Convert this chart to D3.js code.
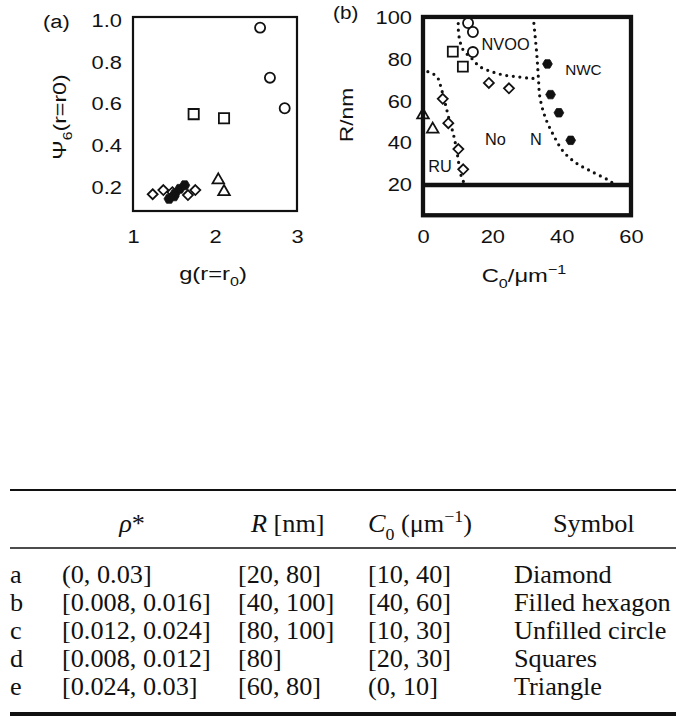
<!DOCTYPE html>
<html>
<head>
<meta charset="utf-8">
<style>
  body { margin: 0; background: #fff; }
  svg { display: block; }
</style>
</head>
<body>
<script src="https://cdn.jsdelivr.net/npm/d3@7"></script>
<script>
// ---- data ----
var psiTicks = [0.2, 0.4, 0.6, 0.8, 1.0];
var gTicks = [1, 2, 3];
var c0Ticks = [0, 20, 40, 60];
var rTicks = [20, 40, 60, 80, 100];

// panel (a): [g(r=r0), psi6]
var aDiamond = [[1.24, 0.170], [1.37, 0.190], [1.48, 0.180], [1.67, 0.166], [1.76, 0.190]];
var aHexagon = [[1.44, 0.148], [1.51, 0.172], [1.57, 0.196], [1.63, 0.213], [1.50, 0.160]];
var aCircle = [[2.55, 0.966], [2.67, 0.727], [2.85, 0.581]];
var aSquare = [[1.74, 0.553], [2.11, 0.533]];
var aTriangle = [[2.04, 0.238], [2.11, 0.182]];

// panel (b): [C0, R]
var bDiamond = [[19.0, 68.9], [24.8, 66.3], [5.7, 61.3], [7.3, 49.6], [10.2, 37.2], [11.6, 27.5]];
var bHexagon = [[35.9, 78.0], [36.8, 63.3], [39.2, 54.6], [42.6, 41.4]];
var bCircle = [[13.0, 97.6], [14.4, 93.3], [14.4, 83.7]];
var bSquare = [[8.6, 83.9], [11.5, 76.7]];
var bTriangle = [[0.0, 53.5], [2.8, 46.7]];

// dotted phase boundaries in (b)
var ruCurve = [[1.4, 74.3], [4.0, 71.9], [5.4, 65.5], [6.4, 59.1], [7.6, 51.1], [8.7, 44.8], [9.7, 36.8], [10.5, 28.8], [11.6, 21.8], [13.0, 20.6]];
var nvooCurve = [[10.2, 100.5], [10.2, 94.2], [10.7, 88.6], [11.6, 84.7], [14.0, 80.7], [16.4, 76.7], [19.8, 74.3], [23.2, 72.7], [27.0, 71.9], [30.9, 71.1], [33.2, 71.0]];
var nCurve = [[31.8, 100.5], [32.8, 83.1], [33.3, 71.1], [33.7, 62.3], [35.2, 52.7], [37.6, 44.0], [40.5, 36.0], [44.3, 30.4], [48.7, 26.4], [53.4, 22.4], [55.0, 20.6]];

var regionNames = ["NVOO", "NWC", "No", "N", "RU"];
var regionAt = [[16.9, 84.7], [41.0, 72.7], [17.9, 39.2], [30.9, 39.2], [1.5, 26.4]];

// table
var rowKeys = ["a", "b", "c", "d", "e"];
var rhoRanges = ["(0, 0.03]", "[0.008, 0.016]", "[0.012, 0.024]", "[0.008, 0.012]", "[0.024, 0.03]"];
var rRanges = ["[20, 80]", "[40, 100]", "[80, 100]", "[80]", "[60, 80]"];
var c0Ranges = ["[10, 40]", "[40, 60]", "[10, 30]", "[20, 30]", "(0, 10]"];
var symbolNames = ["Diamond", "Filled hexagon", "Unfilled circle", "Squares", "Triangle"];

// ---- drawing ----
var sans = "'Liberation Sans', Arial, Helvetica, sans-serif";
var serif = "'Liberation Serif', 'Times New Roman', serif";
var ink = "#111";

var svg = d3.select("body").append("svg")
    .attr("width", 685)
    .attr("height", 727);
svg.append("rect").attr("width", 685).attr("height", 727).attr("fill", "#fff");

// custom symbols
var symbolHex = {
  draw: function (ctx, size) {
    var r = Math.sqrt(size / 2.598);
    for (var i = 0; i < 6; i++) {
      var a = Math.PI / 3 * i;
      var x = r * Math.cos(a), y = r * Math.sin(a);
      if (i) ctx.lineTo(x, y); else ctx.moveTo(x, y);
    }
    ctx.closePath();
  }
};
var symbolRhomb = {
  draw: function (ctx, size) {
    var r = Math.sqrt(size / 2);
    ctx.moveTo(0, -r); ctx.lineTo(r, 0); ctx.lineTo(0, r); ctx.lineTo(-r, 0);
    ctx.closePath();
  }
};

// text with sub/superscripts, stretched horizontally by k
function rich(g, parts, size, family) {
  var t = g.append("text")
      .attr("font-family", family)
      .attr("font-size", size)
      .attr("fill", ink);
  var shift = 0;
  parts.forEach(function (p) {
    var s = t.append("tspan").text(p.t);
    var target = p.sub ? size * 0.3 : (p.sup ? -size * 0.4 : 0);
    if (p.sub || p.sup) s.attr("font-size", size * 0.68);
    if (target !== shift) { s.attr("dy", target - shift); shift = target; }
    if (p.it) s.attr("font-style", "italic");
  });
  return t;
}
function place(t, x, y, k, rot) {
  t.attr("transform", "translate(" + x + "," + y + ")" + (rot ? " rotate(" + rot + ")" : "") + " scale(" + k + ",1)");
  return t;
}

function drawPoints(g, x, y, pts, type, size, filled) {
  g.selectAll(null).data(pts).enter().append("path")
      .attr("d", d3.symbol().type(type).size(size))
      .attr("transform", function (d) { return "translate(" + x(d[0]) + "," + y(d[1]) + ")"; })
      .attr("fill", filled ? ink : "#fff")
      .attr("stroke", ink)
      .attr("stroke-width", filled ? 0.8 : 1.8);
}

function styleAxis(g, k) {
  g.attr("font-family", sans).attr("font-size", 17.5).attr("color", ink);
  g.select(".domain").remove();
  g.selectAll(".tick line").remove();
  g.selectAll("text").attr("transform", "scale(" + k + ",1)");
}

var kTick = 1.25;

// ===== panel (a) =====
var xA = d3.scaleLinear().domain([1, 3]).range([133, 297]);
var yA = d3.scaleLinear().domain([0.09, 1.017]).range([211, 17]);
var gA = svg.append("g");

gA.append("g").attr("transform", "translate(" + xA(1) + ",0)")
    .call(d3.axisLeft(yA).tickValues(psiTicks).tickSize(0).tickPadding(11 / kTick).tickFormat(d3.format(".1f")))
    .call(styleAxis, kTick);
gA.append("g").attr("transform", "translate(0," + yA(0.09) + ")")
    .call(d3.axisBottom(xA).tickValues(gTicks).tickSize(0).tickPadding(20).tickFormat(d3.format("d")))
    .call(styleAxis, kTick);

drawPoints(gA, xA, yA, aDiamond, symbolRhomb, 50, false);
drawPoints(gA, xA, yA, aHexagon, symbolHex, 68, true);
drawPoints(gA, xA, yA, aCircle, d3.symbolCircle, 80, false);
drawPoints(gA, xA, yA, aSquare, d3.symbolSquare, 105, false);
drawPoints(gA, xA, yA, aTriangle, d3.symbolTriangle, 58, false);

gA.append("rect")
    .attr("x", xA(1)).attr("y", yA(1.017))
    .attr("width", xA(3) - xA(1)).attr("height", yA(0.09) - yA(1.017))
    .attr("fill", "none").attr("stroke", ink).attr("stroke-width", 2.2);

place(rich(gA, [{t: "(a)"}], 19, sans), 43, 28, 1.15);
place(rich(gA, [{t: "Ψ"}, {t: "6", sub: true}, {t: "(r=r0)"}], 19, sans), 66, 117, 1.22, -90)
    .attr("text-anchor", "middle");
place(rich(gA, [{t: "g(r=r"}, {t: "0", sub: true}, {t: ")"}], 19, sans), 213, 280, 1.25)
    .attr("text-anchor", "middle");

// ===== panel (b) =====
var xB = d3.scaleLinear().domain([0, 60]).range([423, 631]);
var yB = d3.scaleLinear().domain([20, 100]).range([185, 18]);
var gB = svg.append("g");

gB.append("g").attr("transform", "translate(" + xB(0) + ",0)")
    .call(d3.axisLeft(yB).tickValues(rTicks).tickSize(0).tickPadding(11 / kTick))
    .call(styleAxis, kTick);
gB.append("g").attr("transform", "translate(0," + yB(5.5) + ")")
    .call(d3.axisBottom(xB).tickValues(c0Ticks).tickSize(0).tickPadding(15))
    .call(styleAxis, kTick);

var curve = d3.line()
    .curve(d3.curveCatmullRom.alpha(0.5))
    .x(function (d) { return xB(d[0]); })
    .y(function (d) { return yB(d[1]); });
[ruCurve, nvooCurve, nCurve].forEach(function (c) {
  gB.append("path")
      .attr("d", curve(c))
      .attr("fill", "none")
      .attr("stroke", ink)
      .attr("stroke-width", 3.2)
      .attr("stroke-linecap", "round")
      .attr("stroke-dasharray", "0 6.6");
});

drawPoints(gB, xB, yB, bDiamond, symbolRhomb, 50, false);
drawPoints(gB, xB, yB, bHexagon, symbolHex, 62, true);
drawPoints(gB, xB, yB, bCircle, d3.symbolCircle, 80, false);
drawPoints(gB, xB, yB, bSquare, d3.symbolSquare, 100, false);
drawPoints(gB, xB, yB, bTriangle, d3.symbolTriangle, 58, false);

regionNames.forEach(function (n, i) {
  place(rich(gB, [{t: n}], n === "NWC" ? 15 : 16, sans), xB(regionAt[i][0]), yB(regionAt[i][1]), 1.02);
});

gB.append("rect")
    .attr("x", xB(0)).attr("y", yB(100.5))
    .attr("width", xB(60) - xB(0)).attr("height", yB(5.5) - yB(100.5))
    .attr("fill", "none").attr("stroke", ink).attr("stroke-width", 4.3);
gB.append("line")
    .attr("x1", xB(0)).attr("x2", xB(60))
    .attr("y1", yB(20)).attr("y2", yB(20))
    .attr("stroke", ink).attr("stroke-width", 4.3);

place(rich(gB, [{t: "(b)"}], 18, sans), 333, 19, 1.15);
place(rich(gB, [{t: "R/nm"}], 19, sans), 353, 115, 1.2, -90)
    .attr("text-anchor", "middle");
place(rich(gB, [{t: "C"}, {t: "0", sub: true}, {t: "/μm"}, {t: "−1", sup: true}], 19, sans), 524, 282, 1.25)
    .attr("text-anchor", "middle");

// ===== table =====
var gT = svg.append("g");
var kT = 1.05, fT = 25;
var rowY = d3.scalePoint().domain(rowKeys).range([583, 695]);

gT.append("line").attr("x1", 10).attr("x2", 676).attr("y1", 490).attr("y2", 490)
    .attr("stroke", ink).attr("stroke-width", 2);
gT.append("line").attr("x1", 10).attr("x2", 676).attr("y1", 548).attr("y2", 548)
    .attr("stroke", ink).attr("stroke-width", 1.6);
gT.append("line").attr("x1", 10).attr("x2", 676).attr("y1", 714).attr("y2", 714)
    .attr("stroke", ink).attr("stroke-width", 4);

place(rich(gT, [{t: "ρ", it: true}, {t: "*"}], fT, serif), 132, 532, kT).attr("text-anchor", "middle");
place(rich(gT, [{t: "R", it: true}, {t: " [nm]"}], fT, serif), 251, 532, kT);
place(rich(gT, [{t: "C", it: true}, {t: "0", sub: true}, {t: " (μm"}, {t: "−1", sup: true}, {t: ")"}], fT, serif), 368, 532, kT);
place(rich(gT, [{t: "Symbol"}], fT, serif), 553, 532, kT);

var cols = [[rowKeys, 10], [rhoRanges, 62], [rRanges, 238], [c0Ranges, 368], [symbolNames, 514]];
cols.forEach(function (c) {
  c[0].forEach(function (v, i) {
    place(rich(gT, [{t: v}], fT, serif), c[1], rowY(rowKeys[i]), kT);
  });
});
</script>
</body>
</html>
